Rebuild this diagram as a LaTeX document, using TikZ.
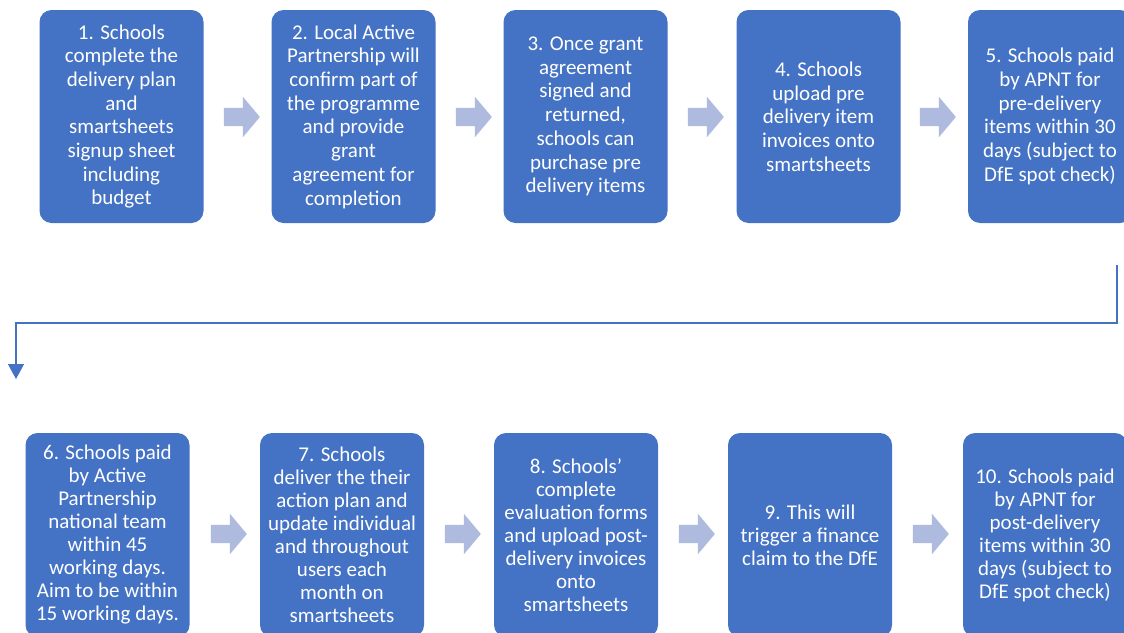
\documentclass[tikz,border=0pt]{standalone}
\usepackage{fontspec}
\setmainfont{Carlito}
\usetikzlibrary{shapes.arrows,arrows.meta}
\definecolor{boxblue}{HTML}{4472C4}
\definecolor{arrowblue}{HTML}{AEBBDE}
\tikzset{
  stepbox/.style={draw=none, fill=boxblue, rounded corners=12pt, minimum width=164pt, minimum height=213pt,
    text=white, align=center, inner sep=0pt, font=\fontsize{21}{23.7}\selectfont},
  lowbox/.style={stepbox, minimum height=204pt, font=\fontsize{21}{23}\selectfont},
  blockarrow/.style={single arrow, fill=arrowblue, draw=none, inner xsep=0pt, inner ysep=9pt,
    single arrow head extend=11pt, single arrow tip angle=100, minimum height=36pt},
  flowline/.style={draw=boxblue, line width=1.3pt}
}
\begin{document}
\begin{tikzpicture}[x=1pt,y=-1pt]
\useasboundingbox (0,0) rectangle (1124,632);
% top row
\node[stepbox] (b1) at (121.5,116.5) {1. Schools\\complete the\\delivery plan\\and\\smartsheets\\signup sheet\\including\\budget};
\node[stepbox] (b2) at (353.5,116.5) {2. Local Active\\Partnership will\\confirm part of\\the programme\\and provide\\grant\\agreement for\\completion};
\node[stepbox] (b3) at (585.5,116.5) {3. Once grant\\agreement\\signed and\\returned,\\schools can\\purchase pre\\delivery items};
\node[stepbox] (b4) at (818.5,116.5) {4. Schools\\upload pre\\delivery item\\invoices onto\\smartsheets};
\node[stepbox] (b5) at (1050,116.5) {5. Schools paid\\by APNT for\\pre-delivery\\items within 30\\days (subject to\\DfE spot check)};
% bottom row
\node[lowbox] (b6) at (107.5,535) {6. Schools paid\\by Active\\Partnership\\national team\\within 45\\working days.\\Aim to be within\\15 working days.};
\node[lowbox] (b7) at (342,535) {7. Schools\\deliver the their\\action plan and\\update individual\\and throughout\\users each\\month on\\smartsheets};
\node[lowbox] (b8) at (576,535) {8. Schools’\\complete\\evaluation forms\\and upload post-\\delivery invoices\\onto\\smartsheets};
\node[lowbox] (b9) at (810,535) {9. This will\\trigger a finance\\claim to the DfE};
\node[lowbox] (b10) at (1045,535) {10. Schools paid\\by APNT for\\post-delivery\\items within 30\\days (subject to\\DfE spot check)};
% block arrows
\node[blockarrow] (a12) at (238,117) {};
\node[blockarrow] (a23) at (470,117) {};
\node[blockarrow] (a34) at (702,117) {};
\node[blockarrow] (a45) at (934,117) {};
\node[blockarrow] (a67) at (225,534) {};
\node[blockarrow] (a78) at (459,534) {};
\node[blockarrow] (a89) at (693,534) {};
\node[blockarrow] (a910) at (927,534) {};
% connector
\coordinate (c0) at (1117,265);
\coordinate (c1) at (1117,323);
\coordinate (c2) at (16,323);
\coordinate (c3) at (16,379);
\draw[flowline, -{Triangle[width=16pt,length=15pt]}, boxblue] (c0) -- (c1) -- (c2) -- (c3);
\end{tikzpicture}
\end{document}
